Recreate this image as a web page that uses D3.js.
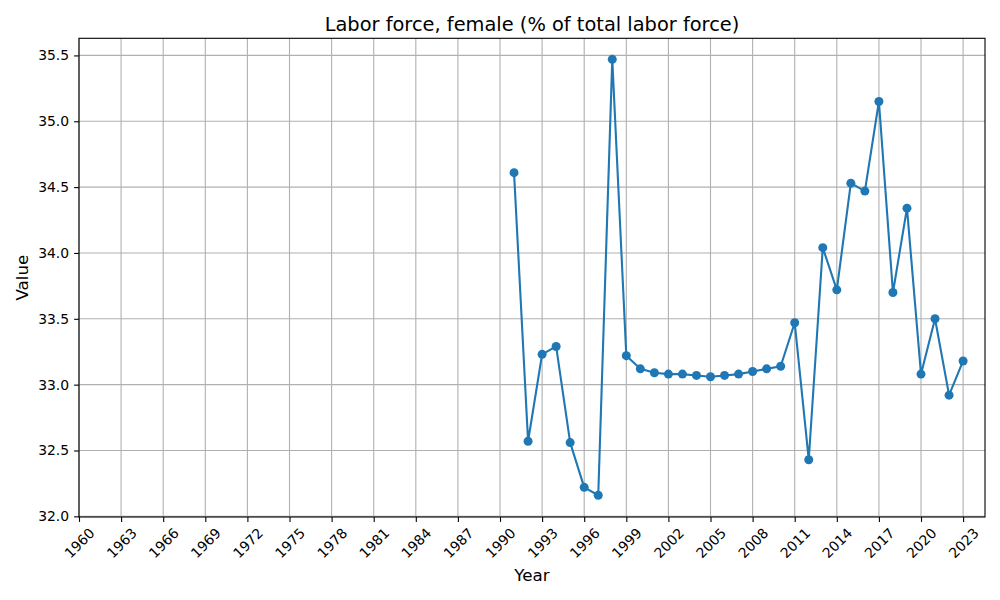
<!DOCTYPE html>
<html>
<head>
<meta charset="utf-8">
<script src="https://cdn.jsdelivr.net/npm/d3@7"></script>
<style>
  body { margin: 0; background: #fff; }
  svg text { font-family: "DejaVu Sans", sans-serif; }
</style>
</head>
<body>
<svg id="chart" width="1000" height="600"></svg>
<script>
// data
const years = [1991, 1992, 1993, 1994, 1995, 1996, 1997, 1998, 1999, 2000,
  2001, 2002, 2003, 2004, 2005, 2006, 2007, 2008, 2009, 2010,
  2011, 2012, 2013, 2014, 2015, 2016, 2017, 2018, 2019, 2020,
  2021, 2022, 2023]
const values = [34.61, 32.57, 33.23, 33.29, 32.56, 32.22, 32.16, 35.47, 33.22, 33.12,
  33.09, 33.08, 33.08, 33.07, 33.06, 33.07, 33.08, 33.10, 33.12, 33.14,
  33.47, 32.43, 34.04, 33.72, 34.53, 34.47, 35.15, 33.70, 34.34, 33.08,
  33.50, 32.92, 33.18]
const xTicks = d3.range(1960, 2024, 3)
const yTicks = [32.0, 32.5, 33.0, 33.5, 34.0, 34.5, 35.0, 35.5]

const plotLeft = 79, plotRight = 985, plotTop = 38.3, plotBottom = 517

const svg = d3.select('#chart')

const x = d3.scaleLinear().domain([1960, 2024.56]).range([plotLeft, plotRight])
const y = d3.scaleLinear().domain([31.995, 35.63]).range([plotBottom, plotTop])

// grid
svg.append('g').selectAll('line')
  .data(xTicks).enter().append('line')
  .attr('x1', d => x(d)).attr('x2', d => x(d))
  .attr('y1', plotTop).attr('y2', plotBottom)
  .attr('stroke', '#b0b0b0').attr('stroke-width', 1.1)
svg.append('g').selectAll('line')
  .data(yTicks).enter().append('line')
  .attr('y1', d => y(d)).attr('y2', d => y(d))
  .attr('x1', plotLeft).attr('x2', plotRight)
  .attr('stroke', '#b0b0b0').attr('stroke-width', 1.1)

// x axis
const xAxis = svg.append('g')
  .attr('transform', `translate(0,${plotBottom})`)
  .call(d3.axisBottom(x).tickValues(xTicks).tickFormat(d3.format('d')).tickSize(4.9).tickSizeOuter(0))
xAxis.attr('font-family', null).attr('font-size', null)
xAxis.select('.domain').remove()
xAxis.selectAll('line').attr('stroke', '#000').attr('stroke-width', 1.1)
xAxis.selectAll('text')
  .attr('font-size', 13.9)
  .attr('fill', '#000')
  .attr('y', 0).attr('dy', 0)
  .attr('text-anchor', 'middle')
  .attr('dominant-baseline', 'central')
  .attr('transform', 'translate(0,26) rotate(-45)')

// y axis
const yAxis = svg.append('g')
  .attr('transform', `translate(${plotLeft},0)`)
  .call(d3.axisLeft(y).tickValues(yTicks).tickFormat(d3.format('.1f')).tickSize(4.9).tickPadding(5))
yAxis.attr('font-family', null).attr('font-size', null)
yAxis.select('.domain').remove()
yAxis.selectAll('line').attr('stroke', '#000').attr('stroke-width', 1.1)
yAxis.selectAll('text').attr('font-size', 13.9).attr('fill', '#000')

// frame
svg.append('rect')
  .attr('x', plotLeft).attr('y', plotTop)
  .attr('width', plotRight - plotLeft).attr('height', plotBottom - plotTop)
  .attr('fill', 'none').attr('stroke', '#000').attr('stroke-width', 1.1)

// series
const line = d3.line()
  .x((d, i) => x(years[i]))
  .y(d => y(d))
svg.append('path')
  .datum(values)
  .attr('d', line)
  .attr('fill', 'none')
  .attr('stroke', '#1f77b4')
  .attr('stroke-width', 2.1)
  .attr('stroke-linejoin', 'round')

svg.append('g').selectAll('circle')
  .data(values).enter().append('circle')
  .attr('cx', (d, i) => x(years[i]))
  .attr('cy', d => y(d))
  .attr('r', 4.5)
  .attr('fill', '#1f77b4')

// labels
svg.append('text')
  .attr('x', (plotLeft + plotRight) / 2).attr('y', 31)
  .attr('text-anchor', 'middle')
  .attr('font-size', 19.4)
  .text('Labor force, female (% of total labor force)')

svg.append('text')
  .attr('x', (plotLeft + plotRight) / 2).attr('y', 581)
  .attr('text-anchor', 'middle')
  .attr('font-size', 16.7)
  .text('Year')

svg.append('text')
  .attr('transform', `translate(28,${(plotTop + plotBottom) / 2}) rotate(-90)`)
  .attr('text-anchor', 'middle')
  .attr('font-size', 16.7)
  .text('Value')
</script>
</body>
</html>
